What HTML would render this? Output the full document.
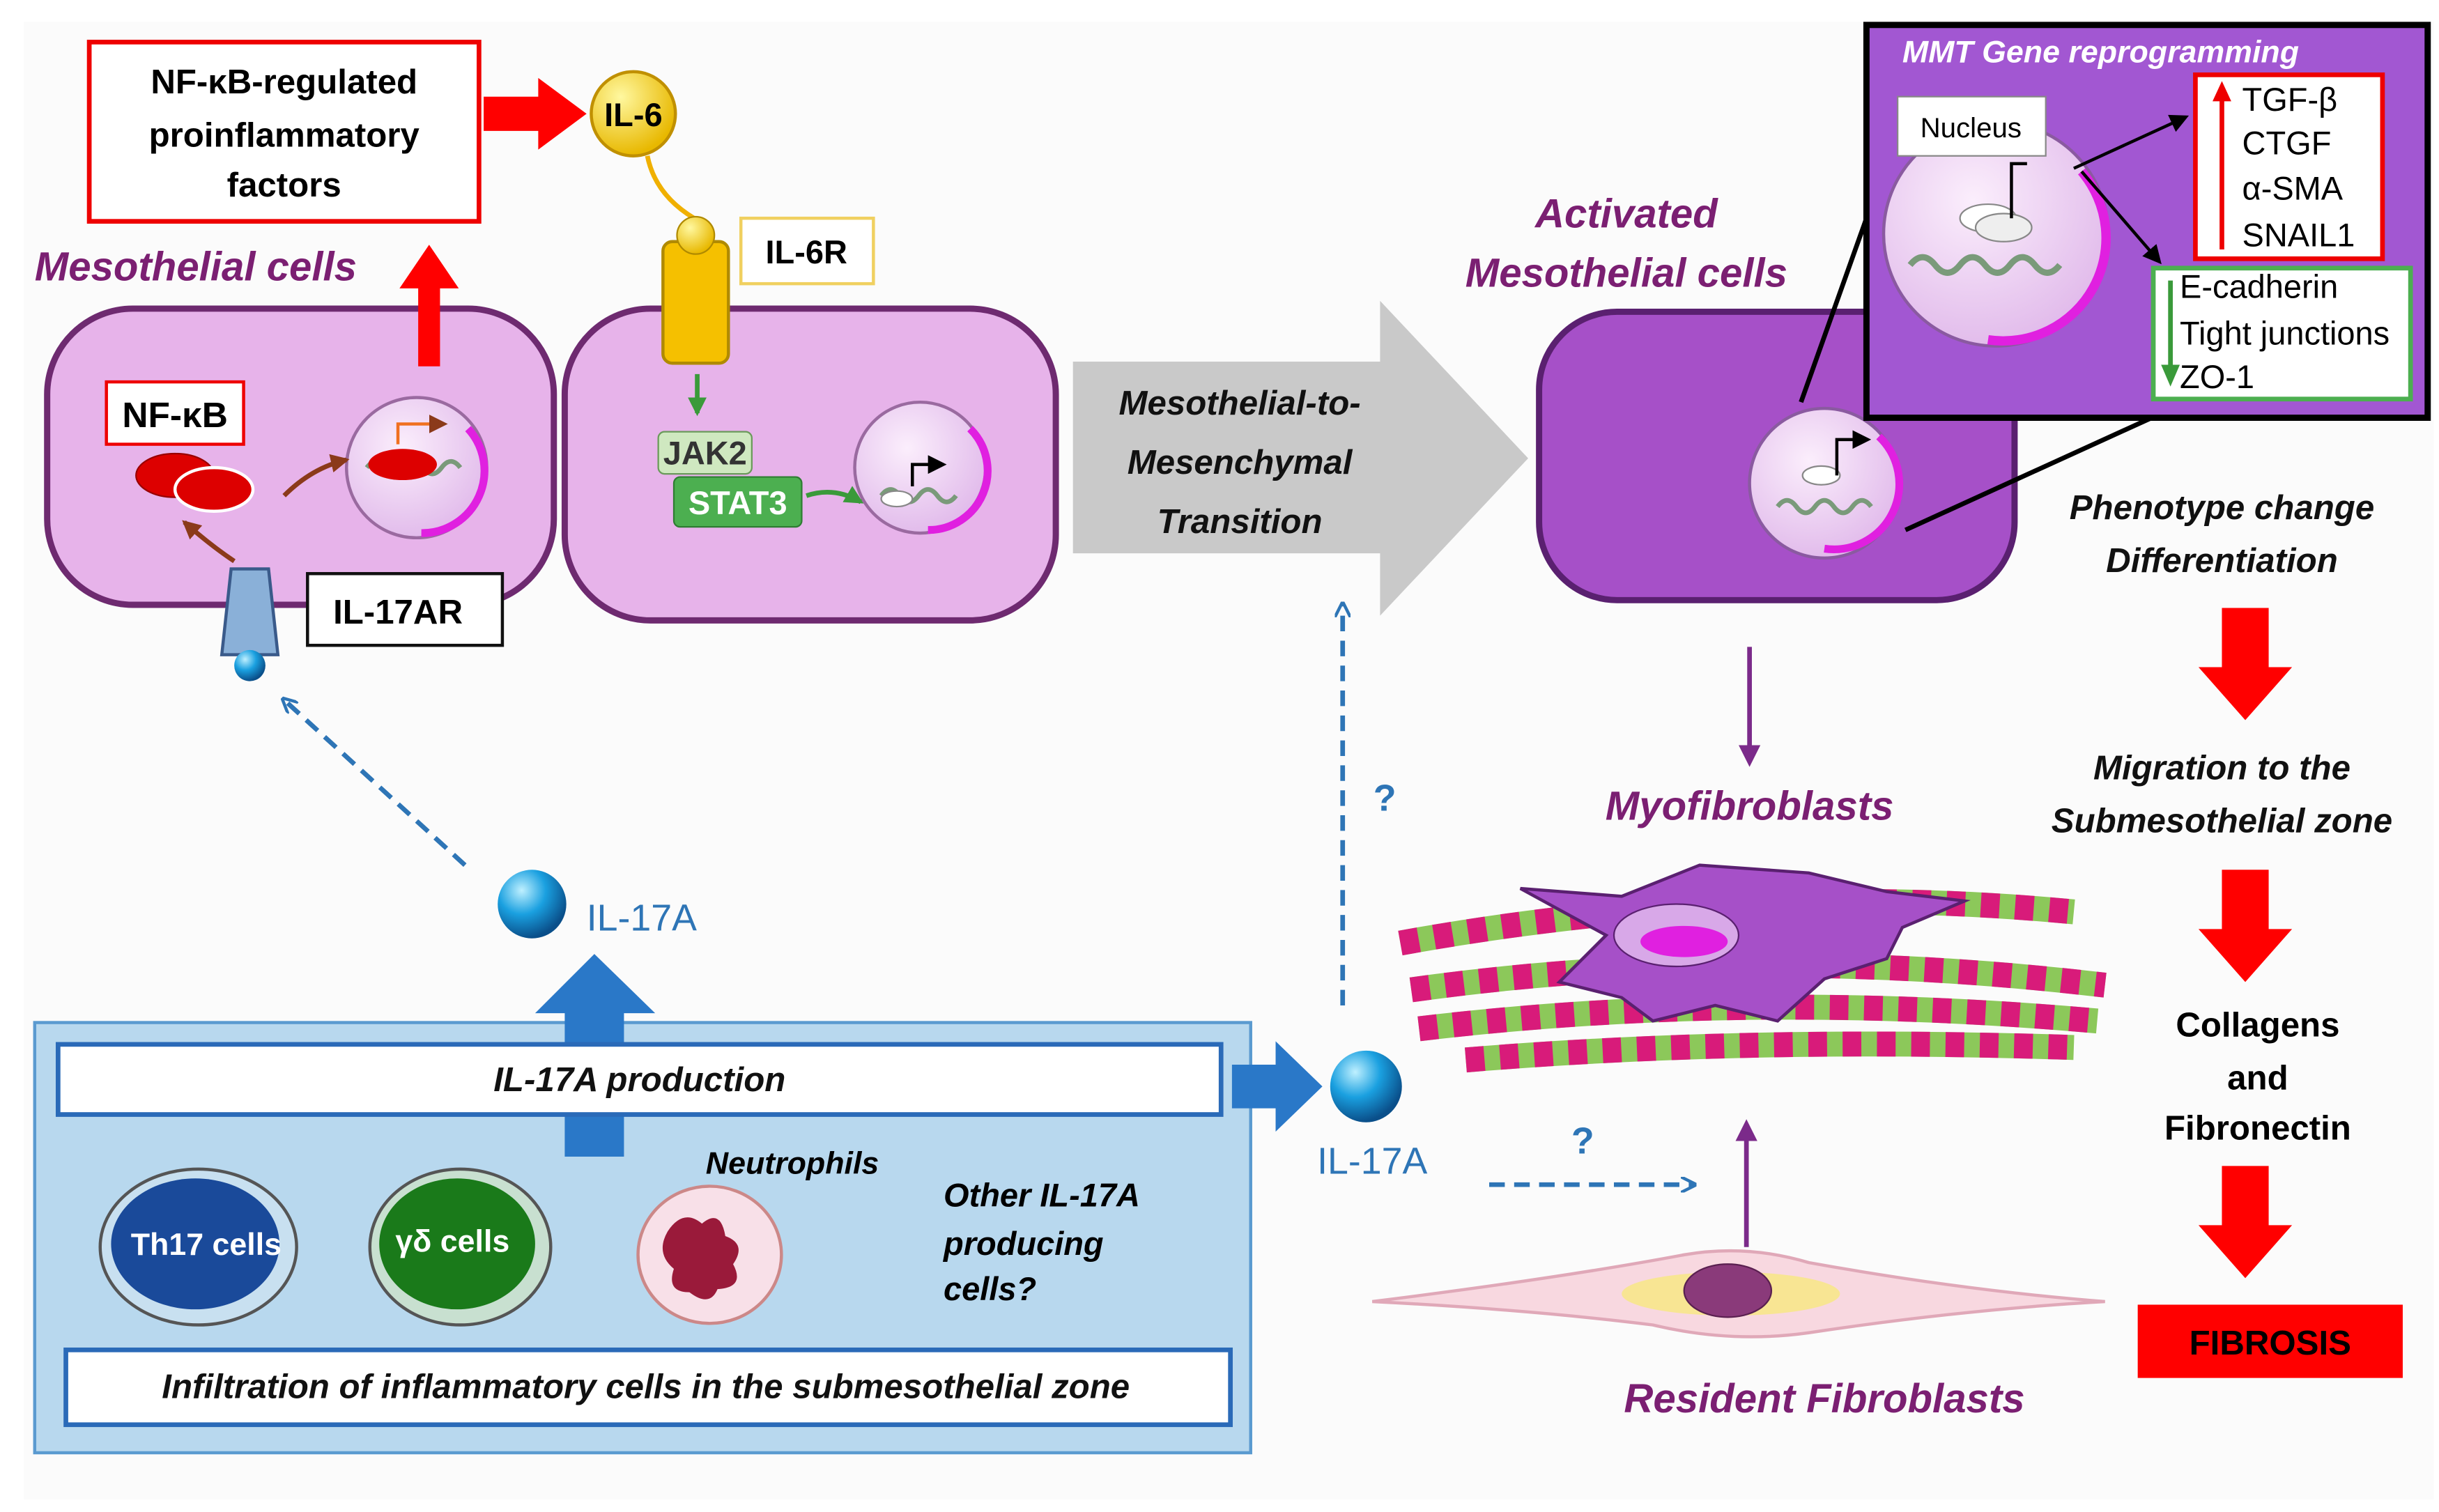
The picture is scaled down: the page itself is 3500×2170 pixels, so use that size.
<!DOCTYPE html>
<html><head><meta charset="utf-8"><style>
html,body{margin:0;padding:0;background:#fff;}
svg{display:block;}
text{font-family:"Liberation Sans",sans-serif;}
.pt{fill:#7b1f72;font-style:italic;font-weight:bold;font-size:26px;}
.bk{fill:#111;font-style:italic;font-weight:bold;font-size:22px;}
</style></head><body>
<svg width="3500" height="2170" viewBox="0 0 1564 970" xmlns="http://www.w3.org/2000/svg">
<defs>
<radialGradient id="sph" cx="35%" cy="30%" r="70%"><stop offset="0" stop-color="#bff0ff"/><stop offset=".5" stop-color="#1aa0e0"/><stop offset="1" stop-color="#0a4f8a"/></radialGradient>
<radialGradient id="nuc" cx="40%" cy="35%" r="70%"><stop offset="0" stop-color="#fbeefc"/><stop offset="1" stop-color="#e0b8ea"/></radialGradient>
<radialGradient id="yel" cx="35%" cy="30%" r="70%"><stop offset="0" stop-color="#fff8a0"/><stop offset="1" stop-color="#e8b800"/></radialGradient>
<marker id="ab" markerWidth="10" markerHeight="10" refX="8" refY="5" orient="auto" markerUnits="userSpaceOnUse"><path d="M0,0 L10,5 L0,10" fill="none" stroke="#2e75b6" stroke-width="2"/></marker>
<marker id="ap" markerWidth="14" markerHeight="14" refX="10" refY="7" orient="auto" markerUnits="userSpaceOnUse"><path d="M0,0 L14,7 L0,14 z" fill="#7b2a8a"/></marker>
<marker id="ak" markerWidth="12" markerHeight="12" refX="10" refY="6" orient="auto" markerUnits="userSpaceOnUse"><path d="M0,0 L12,6 L0,12 z" fill="#000"/></marker>
<marker id="ag" markerWidth="12" markerHeight="12" refX="10" refY="6" orient="auto" markerUnits="userSpaceOnUse"><path d="M0,0 L12,6 L0,12 z" fill="#3a9a3a"/></marker>
<marker id="abr" markerWidth="12" markerHeight="12" refX="10" refY="6" orient="auto" markerUnits="userSpaceOnUse"><path d="M0,0 L12,6 L0,12 z" fill="#8b3a1a"/></marker>
</defs>
<rect x="15" y="14" width="1546" height="948" fill="#fbfbfb"/>

<rect x="57" y="27" width="250" height="115" fill="#fff" stroke="#e00" stroke-width="3"/>
<text x="182" y="60" text-anchor="middle" font-weight="bold" font-size="22">NF-κB-regulated</text>
<text x="182" y="94" text-anchor="middle" font-weight="bold" font-size="22">proinflammatory</text>
<text x="182" y="126" text-anchor="middle" font-weight="bold" font-size="22">factors</text>
<path d="M310,62 H345 V50 L376,73 L345,96 V84 H310 z" fill="#f00"/>
<circle cx="406" cy="73" r="27" fill="url(#yel)" stroke="#c09000" stroke-width="2"/>
<text x="406" y="81" text-anchor="middle" font-weight="bold" font-size="21">IL-6</text>
<path d="M415,100 Q420,125 445,140" fill="none" stroke="#f0b000" stroke-width="3"/>

<text x="22" y="180" class="pt">Mesothelial cells</text>

<rect x="30" y="198" width="325" height="190" rx="55" fill="#e7b3ea" stroke="#6e2a70" stroke-width="4"/>
<rect x="362" y="198" width="315" height="200" rx="55" fill="#e7b3ea" stroke="#6e2a70" stroke-width="4"/>
<path d="M268,235 V185 H256 L275,157 L294,185 H282 V235 z" fill="#f00"/>
<circle cx="267" cy="300" r="45" fill="url(#nuc)" stroke="#9a6aa0" stroke-width="2"/>
<path d="M300,275 A40,40 0 0 1 270,342" fill="none" stroke="#e020e0" stroke-width="5"/>
<circle cx="590" cy="300" r="42" fill="url(#nuc)" stroke="#9a6aa0" stroke-width="2"/>
<path d="M622,275 A38,38 0 0 1 595,340" fill="none" stroke="#e020e0" stroke-width="5"/>
<path d="M235,300 q6,-8 12,0 q6,8 12,0 q6,-8 12,0 q6,8 12,0 q6,-8 12,0" fill="none" stroke="#7a9a7a" stroke-width="3"/>
<ellipse cx="258" cy="298" rx="22" ry="10" fill="#d00"/>
<path d="M255,285 V272 H285" fill="none" stroke="#f07020" stroke-width="2" marker-end="url(#abr)"/>
<path d="M565,318 q6,-8 12,0 q6,8 12,0 q6,-8 12,0 q6,8 12,0" fill="none" stroke="#7a9a7a" stroke-width="3"/>
<ellipse cx="575" cy="320" rx="10" ry="5" fill="#fff" stroke="#888"/>
<path d="M585,312 V298 H605" fill="none" stroke="#000" stroke-width="2" marker-end="url(#ak)"/>

<rect x="68" y="245" width="88" height="40" fill="#fff" stroke="#e00" stroke-width="2"/>
<text x="112" y="274" text-anchor="middle" font-weight="bold" font-size="23">NF-κB</text>
<ellipse cx="112" cy="305" rx="25" ry="14" fill="#d00" stroke="#900"/>
<ellipse cx="137" cy="314" rx="25" ry="14" fill="#d00" stroke="#fff" stroke-width="2"/>
<path d="M182,318 Q200,300 222,295" fill="none" stroke="#8b3a1a" stroke-width="3" marker-end="url(#abr)"/>
<path d="M150,360 Q135,350 118,335" fill="none" stroke="#8b3a1a" stroke-width="3" marker-end="url(#abr)"/>

<path d="M148,365 H172 L178,420 H142 z" fill="#8ab0d8" stroke="#3a5a8a" stroke-width="2"/>
<circle cx="160" cy="427" r="10" fill="url(#sph)"/>
<rect x="197" y="368" width="125" height="46" fill="#fff" stroke="#111" stroke-width="2"/>
<text x="255" y="400" text-anchor="middle" font-weight="bold" font-size="22">IL-17AR</text>

<rect x="425" y="155" width="42" height="78" rx="6" fill="#f5c000" stroke="#b08a00" stroke-width="2"/>
<circle cx="446" cy="151" r="12" fill="url(#yel)" stroke="#b08a00"/>
<rect x="475" y="140" width="85" height="42" fill="#fff" stroke="#f0d060" stroke-width="2"/>
<text x="517" y="169" text-anchor="middle" font-weight="bold" font-size="21">IL-6R</text>
<path d="M447,240 V265" stroke="#3a9a3a" stroke-width="3" marker-end="url(#ag)"/>
<rect x="422" y="277" width="60" height="27" rx="4" fill="#cfe8c0" stroke="#6a9a5a"/>
<text x="452" y="298" text-anchor="middle" font-weight="bold" font-size="21" fill="#333">JAK2</text>
<rect x="432" y="306" width="82" height="32" rx="4" fill="#4caf50" stroke="#2e7d32"/>
<text x="473" y="330" text-anchor="middle" font-weight="bold" font-size="21" fill="#fff">STAT3</text>
<path d="M517,318 Q535,312 552,322" fill="none" stroke="#3a9a3a" stroke-width="3" marker-end="url(#ag)"/>

<path d="M688,232 H885 V193 L980,294 L885,395 V355 H688 z" fill="#c9c9c9"/>
<text x="795" y="266" text-anchor="middle" class="bk" font-size="27">Mesothelial-to-</text>
<text x="795" y="304" text-anchor="middle" class="bk" font-size="27">Mesenchymal</text>
<text x="795" y="342" text-anchor="middle" class="bk" font-size="27">Transition</text>

<text x="1043" y="146" text-anchor="middle" class="pt">Activated</text>
<text x="1043" y="184" text-anchor="middle" class="pt">Mesothelial cells</text>
<rect x="987" y="200" width="305" height="185" rx="50" fill="#a650c8" stroke="#5a2070" stroke-width="4"/>
<circle cx="1170" cy="310" r="48" fill="url(#nuc)" stroke="#8a5aa0" stroke-width="2"/>
<path d="M1205,280 A42,42 0 0 1 1170,352" fill="none" stroke="#e020e0" stroke-width="5"/>
<path d="M1140,325 q6,-8 12,0 q6,8 12,0 q6,-8 12,0 q6,8 12,0 q6,-8 12,0" fill="none" stroke="#7a9a7a" stroke-width="3"/>
<ellipse cx="1168" cy="305" rx="12" ry="6" fill="#fff" stroke="#888"/>
<path d="M1178,305 V282 H1198" fill="none" stroke="#000" stroke-width="2" marker-end="url(#ak)"/>
<line x1="1155" y1="258" x2="1197" y2="140" stroke="#000" stroke-width="3"/>
<line x1="1222" y1="340" x2="1380" y2="268" stroke="#000" stroke-width="3"/>

<rect x="1197" y="16" width="360" height="252" fill="#a257d2" stroke="#000" stroke-width="4"/>
<text x="1220" y="40" fill="#fff" font-style="italic" font-weight="bold" font-size="20">MMT Gene reprogramming</text>
<circle cx="1280" cy="150" r="72" fill="url(#nuc)" stroke="#8a5aa0" stroke-width="2"/>
<path d="M1335,110 A66,66 0 0 1 1275,218" fill="none" stroke="#e020e0" stroke-width="6"/>
<path d="M1225,170 q8,-10 16,0 q8,10 16,0 q8,-10 16,0 q8,10 16,0 q8,-10 16,0 q8,10 16,0" fill="none" stroke="#7a9a7a" stroke-width="4"/>
<ellipse cx="1275" cy="140" rx="18" ry="9" fill="#fff" stroke="#888"/>
<ellipse cx="1285" cy="146" rx="18" ry="9" fill="#eee" stroke="#888"/>
<path d="M1290,140 V105 H1300" fill="none" stroke="#000" stroke-width="2"/>
<rect x="1217" y="62" width="95" height="38" fill="#fff" stroke="#888"/>
<text x="1264" y="88" text-anchor="middle" font-size="18">Nucleus</text>
<line x1="1330" y1="108" x2="1402" y2="75" stroke="#000" stroke-width="2" marker-end="url(#ak)"/>
<line x1="1335" y1="110" x2="1385" y2="168" stroke="#000" stroke-width="2" marker-end="url(#ak)"/>
<rect x="1408" y="48" width="120" height="118" fill="#fff" stroke="#e00" stroke-width="3"/>
<line x1="1425" y1="160" x2="1425" y2="62" stroke="#e00" stroke-width="3"/>
<path d="M1419,65 L1425,52 L1431,65 z" fill="#e00"/>
<text x="1438" y="71" font-size="21">TGF-β</text>
<text x="1438" y="99" font-size="21">CTGF</text>
<text x="1438" y="128" font-size="21">α-SMA</text>
<text x="1438" y="158" font-size="21">SNAIL1</text>
<rect x="1381" y="172" width="165" height="84" fill="#fff" stroke="#4caf50" stroke-width="3"/>
<line x1="1392" y1="180" x2="1392" y2="236" stroke="#3a9a3a" stroke-width="3"/>
<path d="M1386,234 L1392,248 L1398,234 z" fill="#3a9a3a"/>
<text x="1398" y="191" font-size="21">E-cadherin</text>
<text x="1398" y="221" font-size="21">Tight junctions</text>
<text x="1398" y="249" font-size="21">ZO-1</text>

<text x="1425" y="333" text-anchor="middle" class="bk">Phenotype  change</text>
<text x="1425" y="367" text-anchor="middle" class="bk">Differentiation</text>
<path d="M1425,390 H1455 V428 H1470 L1440,462 L1410,428 H1425 z" fill="#f00"/>
<text x="1425" y="500" text-anchor="middle" class="bk">Migration  to the</text>
<text x="1425" y="534" text-anchor="middle" class="bk">Submesothelial  zone</text>
<path d="M1425,558 H1455 V596 H1470 L1440,630 L1410,596 H1425 z" fill="#f00"/>
<text x="1448" y="665" text-anchor="middle" font-weight="bold" font-size="22">Collagens</text>
<text x="1448" y="699" text-anchor="middle" font-weight="bold" font-size="22">and</text>
<text x="1448" y="731" text-anchor="middle" font-weight="bold" font-size="22">Fibronectin</text>
<path d="M1425,748 H1455 V786 H1470 L1440,820 L1410,786 H1425 z" fill="#f00"/>
<rect x="1371" y="837" width="170" height="47" fill="#f00"/>
<text x="1456" y="869" text-anchor="middle" font-weight="bold" font-size="22">FIBROSIS</text>

<line x1="1122" y1="415" x2="1122" y2="488" stroke="#7b2a8a" stroke-width="3" marker-end="url(#ap)"/>
<text x="1122" y="526" text-anchor="middle" class="pt">Myofibroblasts</text>
<g stroke-width="16" fill="none">
<path d="M898,605 Q1120,565 1330,585" stroke="#8cc85a"/>
<path d="M898,605 Q1120,565 1330,585" stroke="#d81b7a" stroke-dasharray="12 10"/>
<path d="M905,635 Q1120,605 1350,632" stroke="#8cc85a"/>
<path d="M905,635 Q1120,605 1350,632" stroke="#d81b7a" stroke-dasharray="12 10"/>
<path d="M910,660 Q1120,635 1345,655" stroke="#8cc85a"/>
<path d="M910,660 Q1120,635 1345,655" stroke="#d81b7a" stroke-dasharray="12 10"/>
<path d="M940,680 Q1120,665 1330,672" stroke="#8cc85a"/>
<path d="M940,680 Q1120,665 1330,672" stroke="#d81b7a" stroke-dasharray="12 10"/>
</g>
<path d="M975,570 L1040,575 L1090,555 L1160,560 L1210,572 L1260,578 L1220,595 L1210,615 L1170,628 L1140,655 L1100,645 L1060,655 L1040,640 L1000,630 L1030,600 z" fill="#a650c8" stroke="#5a2070" stroke-width="2"/>
<ellipse cx="1075" cy="600" rx="40" ry="20" fill="#d8a8e8" stroke="#5a2070"/>
<ellipse cx="1080" cy="604" rx="28" ry="10" fill="#e020e0"/>
<line x1="1120" y1="800" x2="1120" y2="722" stroke="#7b2a8a" stroke-width="3" marker-end="url(#ap)"/>
<path d="M880,835 Q1000,820 1080,805 Q1120,798 1160,810 Q1260,828 1350,835 Q1260,840 1160,855 Q1110,862 1060,850 Q980,840 880,835 z" fill="#f8d8e0" stroke="#e0a8b8" stroke-width="2"/>
<ellipse cx="1110" cy="830" rx="70" ry="14" fill="#f8e880" opacity=".8"/>
<ellipse cx="1108" cy="828" rx="28" ry="17" fill="#8a3a7a" stroke="#5a2050"/>
<text x="1170" y="906" text-anchor="middle" class="pt">Resident Fibroblasts</text>

<rect x="22" y="656" width="780" height="276" fill="#b8d8ee" stroke="#5a9ad0" stroke-width="2"/>
<path d="M362,742 V650 H343 L381,612 L420,650 H400 V742 z" fill="#2a78c8"/>
<rect x="37" y="670" width="746" height="45" fill="#fff" stroke="#2a6ab8" stroke-width="3"/>
<text x="410" y="700" text-anchor="middle" class="bk">IL-17A production</text>
<rect x="42" y="866" width="747" height="48" fill="#fff" stroke="#2a6ab8" stroke-width="3"/>
<text x="414" y="897" text-anchor="middle" class="bk">Infiltration  of inflammatory  cells in the submesothelial  zone</text>
<circle cx="341" cy="580" r="22" fill="url(#sph)"/>
<text x="376" y="597" fill="#2e75b6" font-size="24">IL-17A</text>
<line x1="298" y1="555" x2="182" y2="449" stroke="#2e75b6" stroke-width="3" stroke-dasharray="10 6" marker-end="url(#ab)"/>
<ellipse cx="127" cy="800" rx="63" ry="50" fill="#c8e0f0" stroke="#555" stroke-width="2"/>
<ellipse cx="125" cy="798" rx="54" ry="42" fill="#1a4a9a"/>
<text x="132" y="805" text-anchor="middle" fill="#fff" font-weight="bold" font-size="20">Th17 cells</text>
<ellipse cx="295" cy="800" rx="58" ry="50" fill="#c8e0d0" stroke="#555" stroke-width="2"/>
<ellipse cx="293" cy="798" rx="50" ry="42" fill="#1a7a1a"/>
<text x="290" y="803" text-anchor="middle" fill="#fff" font-weight="bold" font-size="20">γδ cells</text>
<ellipse cx="455" cy="805" rx="46" ry="44" fill="#f8e0e8" stroke="#c88" stroke-width="2"/>
<path d="M428,790 q10,-15 22,-5 q12,-10 15,8 q14,5 5,18 q8,15 -10,16 q-5,12 -18,2 q-15,0 -10,-15 q-12,-10 -4,-24z" fill="#9a1a3a"/>
<text x="508" y="753" text-anchor="middle" font-style="italic" font-weight="bold" font-size="20">Neutrophils</text>
<text x="605" y="774" font-style="italic" font-weight="bold" font-size="21">Other IL-17A</text>
<text x="605" y="805" font-style="italic" font-weight="bold" font-size="21">producing</text>
<text x="605" y="834" font-style="italic" font-weight="bold" font-size="21">cells?</text>
<path d="M790,683 H818 V668 L848,697 L818,726 V711 H790 z" fill="#2a78c8"/>
<circle cx="876" cy="697" r="23" fill="url(#sph)"/>
<text x="880" y="753" text-anchor="middle" fill="#2e75b6" font-size="24">IL-17A</text>
<line x1="861" y1="645" x2="861" y2="388" stroke="#2e75b6" stroke-width="3" stroke-dasharray="10 6" marker-end="url(#ab)"/>
<text x="888" y="520" text-anchor="middle" fill="#2e75b6" font-weight="bold" font-size="24">?</text>
<line x1="955" y1="760" x2="1086" y2="760" stroke="#2e75b6" stroke-width="3" stroke-dasharray="10 6" marker-end="url(#ab)"/>
<text x="1015" y="740" text-anchor="middle" fill="#2e75b6" font-weight="bold" font-size="24">?</text>
</svg>
</body></html>
